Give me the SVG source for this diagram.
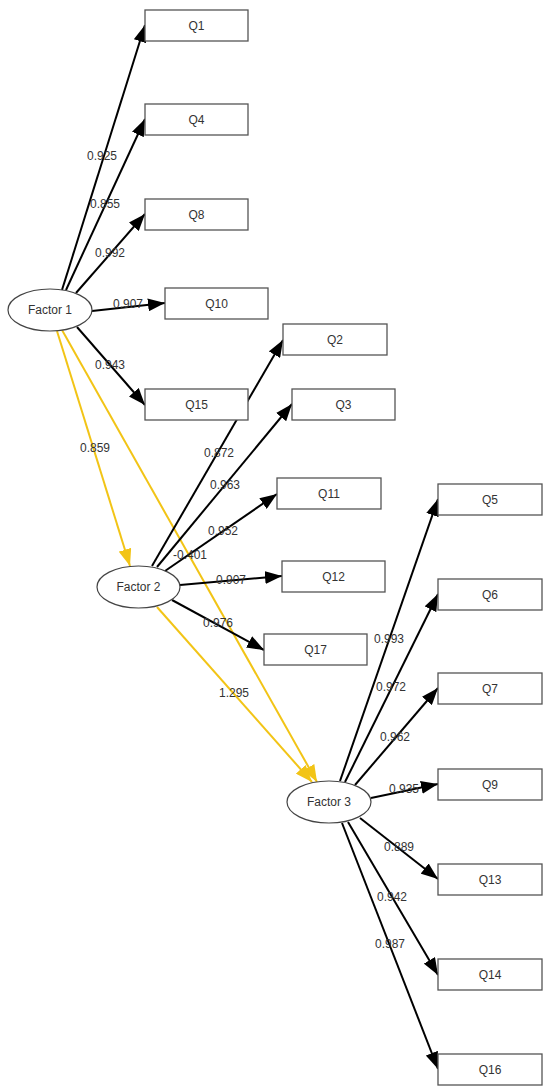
<svg xmlns="http://www.w3.org/2000/svg" width="550" height="1091" viewBox="0 0 550 1091">
<style>
.box{fill:#fff;stroke:#555;stroke-width:1.3}
.ell{fill:#fff;stroke:#444;stroke-width:1.2}
.t{font-family:"Liberation Sans",Arial,sans-serif;font-size:12px;fill:#333;text-anchor:middle;dominant-baseline:central}
.e{fill:none;stroke:#000;stroke-width:2;marker-end:url(#ab)}
.y{fill:none;stroke:#F2C416;stroke-width:2;marker-end:url(#ay)}
</style>
<defs>
<marker id="ab" markerUnits="userSpaceOnUse" markerWidth="17" markerHeight="13" refX="17" refY="6.5" orient="auto"><path d="M0,0 L17,6.5 L0,13 Z" fill="#000"/></marker>
<marker id="ay" markerUnits="userSpaceOnUse" markerWidth="17" markerHeight="13" refX="17" refY="6.5" orient="auto"><path d="M0,0 L17,6.5 L0,13 Z" fill="#F2C416"/></marker>
</defs>
<g id="connectors">
<line class="e" x1="62" y1="290" x2="145" y2="25"/>
<line class="e" x1="66" y1="290" x2="145" y2="119"/>
<line class="e" x1="76" y1="293" x2="145" y2="214"/>
<line class="e" x1="92" y1="311" x2="165" y2="303"/>
<line class="e" x1="77" y1="327" x2="145" y2="405"/>
<line class="y" x1="57" y1="331" x2="130" y2="566"/>
<line class="y" x1="62" y1="330" x2="317" y2="782"/>
<line class="e" x1="152" y1="566" x2="283" y2="340"/>
<line class="e" x1="157" y1="567" x2="292" y2="404"/>
<line class="e" x1="165" y1="571" x2="277" y2="494"/>
<line class="e" x1="180" y1="585" x2="282" y2="576"/>
<line class="e" x1="172" y1="600" x2="264" y2="650"/>
<line class="y" x1="157" y1="607" x2="312" y2="782"/>
<line class="e" x1="340" y1="781" x2="438" y2="499"/>
<line class="e" x1="345" y1="782" x2="438" y2="594"/>
<line class="e" x1="355" y1="785" x2="438" y2="688"/>
<line class="e" x1="371" y1="798" x2="438" y2="784"/>
<line class="e" x1="360" y1="818" x2="438" y2="879"/>
<line class="e" x1="348" y1="822" x2="438" y2="975"/>
<line class="e" x1="342" y1="823" x2="438" y2="1069"/>
<g class="t">
<text class="t" x="102" y="156">0.925</text>
<text class="t" x="105" y="204">0.855</text>
<text class="t" x="110" y="253">0.992</text>
<text class="t" x="128" y="304">0.907</text>
<text class="t" x="110" y="365">0.943</text>
<text class="t" x="95" y="448">0.859</text>
<text class="t" x="219" y="453">0.872</text>
<text class="t" x="225" y="485">0.963</text>
<text class="t" x="223" y="531">0.952</text>
<text class="t" x="190" y="555">-0.401</text>
<text class="t" x="231" y="580">0.907</text>
<text class="t" x="218" y="623">0.976</text>
<text class="t" x="234" y="693">1.295</text>
<text class="t" x="389" y="639">0.993</text>
<text class="t" x="391" y="687">0.972</text>
<text class="t" x="395" y="737">0.962</text>
<text class="t" x="404" y="789">0.935</text>
<text class="t" x="399" y="847">0.889</text>
<text class="t" x="392" y="897">0.942</text>
<text class="t" x="390" y="944">0.987</text>
</g>
</g>
<g id="Factor1"><ellipse class="ell" cx="50" cy="310" rx="42" ry="21"/><text class="t" x="50" y="310">Factor 1</text></g>
<g id="Factor2"><ellipse class="ell" cx="138.5" cy="587" rx="41.5" ry="21"/><text class="t" x="138.5" y="587">Factor 2</text></g>
<g id="Factor3"><ellipse class="ell" cx="329" cy="802" rx="42" ry="21"/><text class="t" x="329" y="802">Factor 3</text></g>
<g id="Q1"><rect class="box" x="145" y="10" width="103" height="31"/><text class="t" x="196.5" y="25.5">Q1</text></g>
<g id="Q4"><rect class="box" x="145" y="104" width="103" height="31"/><text class="t" x="196.5" y="119.5">Q4</text></g>
<g id="Q8"><rect class="box" x="145" y="199" width="103" height="31"/><text class="t" x="196.5" y="214.5">Q8</text></g>
<g id="Q10"><rect class="box" x="165" y="288" width="103" height="31"/><text class="t" x="216.5" y="303.5">Q10</text></g>
<g id="Q15"><rect class="box" x="145" y="389" width="103" height="31"/><text class="t" x="196.5" y="404.5">Q15</text></g>
<g id="Q2"><rect class="box" x="283" y="324" width="104" height="31"/><text class="t" x="335" y="339.5">Q2</text></g>
<g id="Q3"><rect class="box" x="292" y="389" width="103" height="31"/><text class="t" x="343.5" y="404.5">Q3</text></g>
<g id="Q11"><rect class="box" x="277" y="478" width="104" height="31"/><text class="t" x="329" y="493.5">Q11</text></g>
<g id="Q12"><rect class="box" x="282" y="561" width="103" height="31"/><text class="t" x="333.5" y="576.5">Q12</text></g>
<g id="Q17"><rect class="box" x="264" y="634" width="103" height="31"/><text class="t" x="315.5" y="649.5">Q17</text></g>
<g id="Q5"><rect class="box" x="438" y="484" width="104" height="31"/><text class="t" x="490" y="499.5">Q5</text></g>
<g id="Q6"><rect class="box" x="438" y="579" width="104" height="31"/><text class="t" x="490" y="594.5">Q6</text></g>
<g id="Q7"><rect class="box" x="438" y="673" width="104" height="31"/><text class="t" x="490" y="688.5">Q7</text></g>
<g id="Q9"><rect class="box" x="438" y="769" width="104" height="31"/><text class="t" x="490" y="784.5">Q9</text></g>
<g id="Q13"><rect class="box" x="438" y="864" width="104" height="31"/><text class="t" x="490" y="879.5">Q13</text></g>
<g id="Q14"><rect class="box" x="438" y="959" width="104" height="31"/><text class="t" x="490" y="974.5">Q14</text></g>
<g id="Q16"><rect class="box" x="438" y="1054" width="104" height="31"/><text class="t" x="490" y="1069.5">Q16</text></g>
</svg>
